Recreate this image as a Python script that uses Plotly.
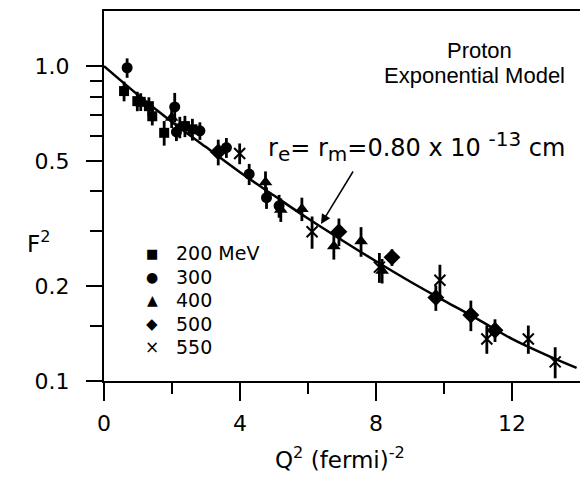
import plotly.graph_objects as go

# ---- data ----
q2_200 = [0.59, 0.98, 1.08, 1.32, 1.42, 1.77, 2.38, 2.60]
f2_200 = [0.833, 0.774, 0.77, 0.746, 0.693, 0.614, 0.645, 0.630]
e2_200 = [0.06, 0.055, 0.05, 0.05, 0.045, 0.055, 0.05, 0.05]

q2_300 = [0.68, 2.08, 2.13, 2.82, 3.60, 4.27, 4.78, 5.15]
f2_300 = [0.988, 0.742, 0.618, 0.623, 0.551, 0.454, 0.382, 0.360]
e2_300 = [0.07, 0.08, 0.04, 0.04, 0.04, 0.035, 0.03, 0.03]

q2_400 = [1.99, 2.23, 4.75, 5.20, 5.82, 6.76, 7.56, 8.18]
f2_400 = [0.686, 0.640, 0.428, 0.350, 0.352, 0.268, 0.278, 0.224]
e2_400 = [0.05, 0.05, 0.035, 0.03, 0.03, 0.025, 0.03, 0.02]

q2_500 = [3.36, 6.91, 8.47, 9.76, 10.79, 11.50]
f2_500 = [0.534, 0.298, 0.247, 0.184, 0.162, 0.145]
e2_500 = [0.05, 0.03, 0.015, 0.017, 0.018, 0.012]

q2_550 = [3.99, 6.12, 8.10, 9.88, 11.26, 12.48, 13.27]
f2_550 = [0.528, 0.298, 0.230, 0.209, 0.136, 0.136, 0.115]
e2_550 = [0.04, 0.035, 0.025, 0.025, 0.014, 0.014, 0.013]

model_q2 = [0, 1, 2, 3, 4, 5, 6, 7, 8, 9, 10, 11, 12, 13, 13.9]
model_f2 = [1.0, 0.81, 0.665, 0.553, 0.46, 0.388, 0.328, 0.28, 0.24, 0.207, 0.18, 0.157, 0.136, 0.121, 0.11]

legend_labels = ["200 MeV", "300", "400", "500", "550"]
legend_glyphs = ["\u25A0", "\u25CF", "\u25B2", "\u25C6", "\u00D7"]

series = [
    (legend_labels[0], q2_200, f2_200, e2_200, "square", 10),
    (legend_labels[1], q2_300, f2_300, e2_300, "circle", 11),
    (legend_labels[2], q2_400, f2_400, e2_400, "triangle-up", 12),
    (legend_labels[3], q2_500, f2_500, e2_500, "diamond", 13),
    (legend_labels[4], q2_550, f2_550, e2_550, "x-thin", 11),
]

ARIAL = "Liberation Sans, Arial, sans-serif"
DEJAVU = "DejaVu Sans, sans-serif"

fig = go.Figure()
fig.add_trace(go.Scatter(x=model_q2, y=model_f2, mode="lines",
                         line=dict(color="black", width=2.5, shape="spline"),
                         showlegend=False, hoverinfo="skip"))

for name, xs, ys, es, sym, size in series:
    fig.add_trace(go.Scatter(
        x=xs, y=ys, mode="markers", name=name, showlegend=False,
        marker=dict(symbol=sym, size=size, color="black",
                    line=dict(color="black", width=2 if sym == "x-thin" else 0)),
        error_y=dict(type="data", array=es, visible=True, color="black",
                     thickness=2.8, width=0),
    ))

fig.update_layout(
    width=580, height=479,
    margin=dict(l=104, r=0, t=11, b=98),
    paper_bgcolor="white", plot_bgcolor="white",
    font=dict(family=DEJAVU, color="black", size=20),
    showlegend=False,
    xaxis=dict(range=[0, 14], showgrid=False, zeroline=False,
               showline=True, linecolor="black", linewidth=2, mirror=True,
               ticks="outside", ticklen=18, tickwidth=1.5, tickcolor="black",
               tickvals=[0, 4, 8, 12], ticktext=["0", "4", "8", "12"],
               ticklabelstandoff=4,
               tickfont=dict(size=22, family=DEJAVU),
               minor=dict(tickvals=[2, 6, 10], ticklen=11, ticks="outside",
                          tickcolor="black", tickwidth=1.5, showgrid=False)),
    yaxis=dict(type="log", range=[-1, 0.175], showgrid=False, zeroline=False,
               showline=True, linecolor="black", linewidth=2,
               ticks="outside", ticklen=16, tickwidth=1.5, tickcolor="black",
               tickvals=[0.1, 0.2, 0.5, 1.0], ticktext=["0.1", "0.2", "0.5", "1.0"],
               ticklabelstandoff=12,
               tickfont=dict(size=22, family=DEJAVU),
               minor=dict(tickvals=[0.15, 0.3, 0.4, 0.6, 0.7, 0.8, 0.9],
                          ticklen=12, ticks="outside", tickcolor="black",
                          tickwidth=1.5, showgrid=False)),
)

def px(xp):
    return (xp - 104) / 476.0

def py(yp):
    return (381 - yp) / 370.0

fig.add_annotation(x=px(479), y=py(50), xref="paper", yref="paper",
                   text="Proton", showarrow=False, font=dict(size=22, family=ARIAL),
                   xanchor="center", yanchor="middle")
fig.add_annotation(x=px(474), y=py(75), xref="paper", yref="paper",
                   text="Exponential Model", showarrow=False, font=dict(size=22, family=ARIAL),
                   xanchor="center", yanchor="middle")
sub = "<span style='font-size:20px'>%s</span>"
fig.add_annotation(x=px(266), y=py(146), xref="paper", yref="paper",
                   text="r<sub>" + sub % "e" + "</sub>= r<sub>" + sub % "m" +
                        "</sub>=0.80 x 10 <sup>" + sub % "-13" + "</sup> cm",
                   showarrow=False, font=dict(size=24, family=DEJAVU),
                   xanchor="left", yanchor="middle")
# arrow
fig.add_annotation(x=px(321), y=py(224), xref="paper", yref="paper",
                   ax=33, ay=-54, axref="pixel", ayref="pixel",
                   text="", showarrow=True, arrowhead=2, arrowsize=1.3,
                   arrowwidth=1.5, arrowcolor="black")
# axis titles
fig.add_annotation(x=px(38), y=py(242), xref="paper", yref="paper",
                   text="F<sup>2</sup>", showarrow=False, font=dict(size=23, family=DEJAVU),
                   xanchor="center", yanchor="middle")
fig.add_annotation(x=px(340), y=py(458), xref="paper", yref="paper",
                   text="Q<sup>2</sup> (fermi)<sup>-2</sup>", showarrow=False,
                   font=dict(size=23, family=DEJAVU), xanchor="center", yanchor="middle")

# legend (symbol + label)
leg_y = [253, 277, 300, 324, 347]
glyph_sizes = [13, 14, 14, 15, 17]
for lab, gl, gy, gs in zip(legend_labels, legend_glyphs, leg_y, glyph_sizes):
    fig.add_annotation(x=px(152), y=py(gy), xref="paper", yref="paper",
                       text=gl, showarrow=False, font=dict(size=gs, family=DEJAVU),
                       xanchor="center", yanchor="middle")
    fig.add_annotation(x=px(174), y=py(gy), xref="paper", yref="paper",
                       text=lab, showarrow=False, font=dict(size=19, family=DEJAVU),
                       xanchor="left", yanchor="middle")

fig.write_html("out.html")
